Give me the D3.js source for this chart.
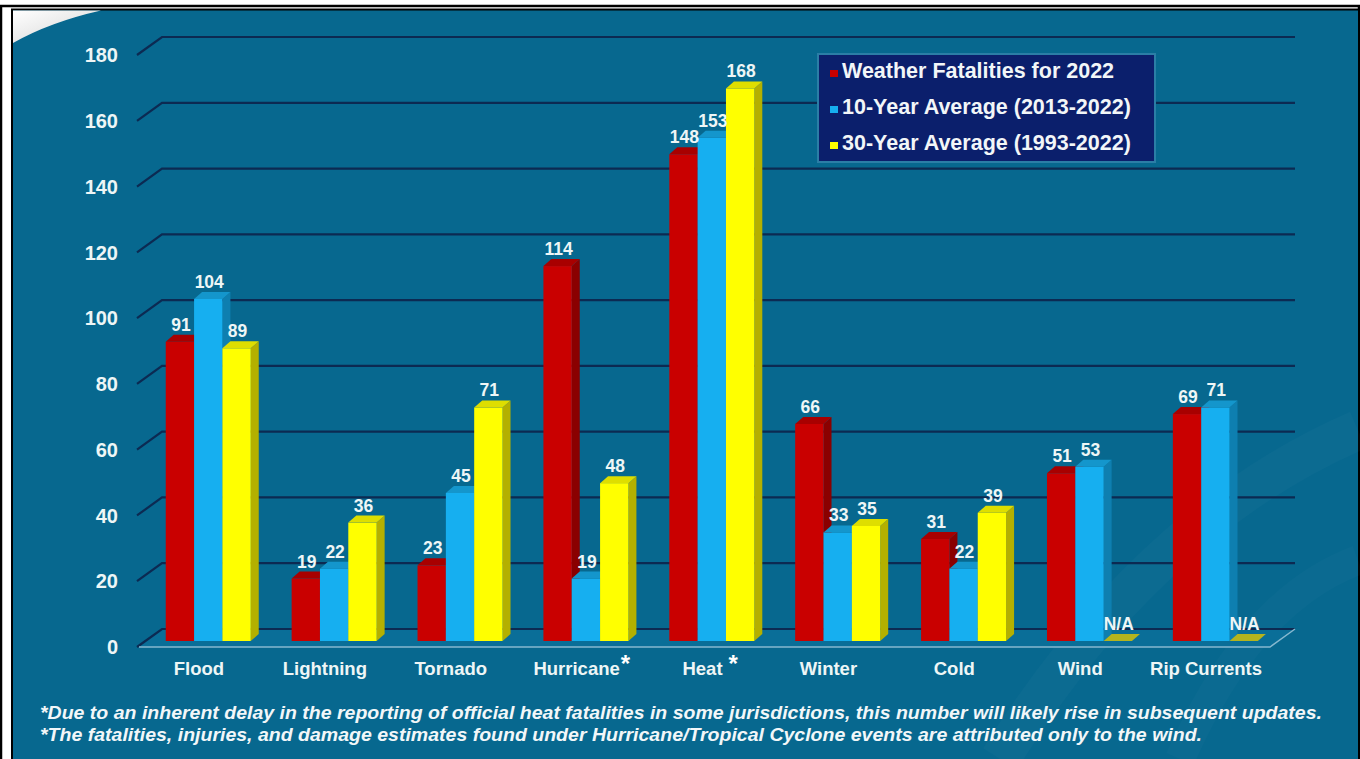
<!DOCTYPE html>
<html>
<meta charset="utf-8">
<script src="https://d3js.org/d3.v7.min.js"></script>
<body style="margin:0;background:#fff">
<script>

// data
var categories = ["Flood", "Lightning", "Tornado", "Hurricane", "Heat", "Winter", "Cold", "Wind", "Rip Currents"];
var starMarks = {"Hurricane": "*", "Heat": " *"};
var fatal2022 = [91, 19, 23, 114, 148, 66, 31, 51, 69];
var avg10 = [104, 22, 45, 19, 153, 33, 22, 53, 71];
var avg30 = [89, 36, 71, 48, 168, 35, 39, null, null];
var seriesNames = ["Weather Fatalities for 2022", "10-Year Average (2013-2022)", "30-Year Average (1993-2022)"];
var yTicks = [0, 20, 40, 60, 80, 100, 120, 140, 160, 180];
var footnotes = [
  "*Due to an inherent delay in the reporting of official heat fatalities in some jurisdictions, this number will likely rise in subsequent updates.",
  "*The fatalities, injuries, and damage estimates found under Hurricane/Tropical Cyclone events are attributed only to the wind."
];

var W = 1360, H = 759;
var colors = [
  {front: "#c90000", top: "#a80000", side: "#8a0000"},
  {front: "#16aff0", top: "#1496cc", side: "#0e7fb0"},
  {front: "#ffff00", top: "#dede00", side: "#b4b000"}
];
var floorD = {dx: 25, dy: -18};   // depth of the floor / back wall
var barD = {dx: 8, dy: -7};       // depth of each bar
var barShift = {dx: 8.3, dy: -6}; // bars stand a third of the way back

var svg = d3.select("body").append("svg")
  .attr("width", W).attr("height", H)
  .style("display", "block")
  .style("font-family", "'Liberation Sans', Arial, sans-serif");

// frame + panel
svg.append("rect").attr("x", 1).attr("y", 6).attr("width", W - 2).attr("height", H).attr("fill", "none").attr("stroke", "#000").attr("stroke-width", 2.5);
svg.append("rect").attr("x", 12).attr("y", 9.5).attr("width", W - 13).attr("height", H).attr("fill", "#07688f").attr("stroke", "#000").attr("stroke-width", 2);

var defs = svg.append("defs");
var g1 = defs.append("linearGradient").attr("id", "swoosh").attr("x1", 0).attr("y1", 0).attr("x2", 1).attr("y2", 1);
g1.append("stop").attr("offset", "0%").attr("stop-color", "#ffffff");
g1.append("stop").attr("offset", "70%").attr("stop-color", "#e0e0e0");
g1.append("stop").attr("offset", "100%").attr("stop-color", "#9aa8b0");
svg.append("path").attr("d", "M13,10.5 L101,10.5 Q50,22 13,43 Z").attr("fill", "url(#swoosh)");

// faint background swooshes
svg.append("path").attr("d", "M1000,759 Q1150,520 1358,430").attr("fill", "none").attr("stroke", "#ffffff").attr("stroke-opacity", 0.025).attr("stroke-width", 40);
svg.append("path").attr("d", "M1180,759 Q1250,600 1358,560").attr("fill", "none").attr("stroke", "#ffffff").attr("stroke-opacity", 0.02).attr("stroke-width", 30);

var x = d3.scaleBand().domain(categories).range([137, 1270]);
var y = d3.scaleLinear().domain([0, 180]).range([647, 55]);
var inner = d3.scaleBand().domain([0, 1, 2]).range([-42.5, 42.5]);

// floor
var x0 = x.range()[0], x1 = x.range()[1], yb = y(0);
svg.append("path")
  .attr("d", `M${x0},${yb} L${x1},${yb} L${x1 + floorD.dx},${yb + floorD.dy} L${x0 + floorD.dx},${yb + floorD.dy} Z`)
  .attr("fill", "#0a6e98");

// gridlines on the back wall with the diagonal leader
var grid = svg.append("g");
grid.selectAll("path").data(yTicks).enter().append("path")
  .attr("d", function(v) {
    return `M${x0},${y(v)} L${x0 + floorD.dx},${y(v) + floorD.dy} L${x1 + floorD.dx},${y(v) + floorD.dy}`;
  })
  .attr("fill", "none").attr("stroke", "#0c2a52").attr("stroke-width", 2.2);

// floor edges
svg.append("path")
  .attr("d", `M${x0 + 2},${yb} L${x1},${yb} L${x1 + floorD.dx},${yb + floorD.dy}`)
  .attr("fill", "none").attr("stroke", "#86b8cf").attr("stroke-width", 1.5);

// y labels
svg.append("g").selectAll("text").data(yTicks).enter().append("text")
  .attr("x", 118).attr("y", function(v) { return y(v); }).attr("dy", "0.36em")
  .attr("text-anchor", "end").attr("font-size", 20).attr("font-weight", "bold")
  .attr("fill", "#eef6f6").text(function(v) { return v; });

// bars
var series = [fatal2022, avg10, avg30];
var bars = [];
categories.forEach(function(c, i) {
  series.forEach(function(s, k) {
    bars.push({cat: c, k: k, v: s[i]});
  });
});

var barG = svg.append("g");
bars.forEach(function(b) {
  var left = x(b.cat) + x.bandwidth() / 2 + barShift.dx + inner(b.k);
  var right = left + inner.bandwidth();
  var base = y(0) + barShift.dy;
  var top = b.v == null ? base : base - (y(0) - y(b.v));
  var col = colors[b.k];
  var g = barG.append("g");
  if (b.v != null) {
    g.append("path")
      .attr("d", `M${right},${top} L${right + barD.dx},${top + barD.dy} L${right + barD.dx},${base + barD.dy} L${right},${base} Z`)
      .attr("fill", col.side);
    g.append("rect").attr("x", left).attr("y", top).attr("width", right - left).attr("height", base - top).attr("fill", col.front);
  }
  g.append("path")
    .attr("d", `M${left},${top} L${right},${top} L${right + barD.dx},${top + barD.dy} L${left + barD.dx},${top + barD.dy} Z`)
    .attr("fill", b.v == null ? "#b4b41e" : col.top);
  b.lx = (left + right) / 2 + 1;
  b.ly = top - 11;
});

// value labels
svg.append("g").selectAll("text").data(bars).enter().append("text")
  .attr("x", function(b) { return b.lx; })
  .attr("y", function(b) { return b.ly; })
  .attr("text-anchor", "middle").attr("font-size", 17.5).attr("font-weight", "bold")
  .attr("fill", "#eef6f6")
  .text(function(b) { return b.v == null ? "N/A" : b.v; });

// category labels
var catG = svg.append("g");
categories.forEach(function(c) {
  var cx = x(c) + x.bandwidth() / 2 - 1;
  var t = catG.append("text").attr("x", cx).attr("y", 675)
    .attr("text-anchor", "middle").attr("font-size", 18.5).attr("font-weight", "bold")
    .attr("fill", "#eef6f6").text(c);
  if (starMarks[c]) {
    var w = t.node().getComputedTextLength();
    catG.append("text").attr("x", cx + w / 2 + (starMarks[c].length > 1 ? 6 : 1)).attr("y", 672)
      .attr("font-size", 24).attr("font-weight", "bold").attr("fill", "#ffffff").text("*");
  }
});

// legend
var leg = svg.append("g");
leg.append("rect").attr("x", 818).attr("y", 54).attr("width", 337).attr("height", 108)
  .attr("fill", "#0b1f6c").attr("stroke", "#2b7ea6").attr("stroke-width", 2);
seriesNames.forEach(function(n, k) {
  var by = 78 + k * 36;
  leg.append("rect").attr("x", 830).attr("y", by - 8).attr("width", 8).attr("height", 7).attr("fill", colors[k].front);
  leg.append("text").attr("x", 842).attr("y", by).attr("font-size", 21.5).attr("font-weight", "bold")
    .attr("fill", "#f2f6f8").text(n);
});

// footnotes
var fw = [1282, 1162];
svg.append("g").selectAll("text").data(footnotes).enter().append("text")
  .attr("x", 40).attr("y", function(d, i) { return 719 + i * 22; })
  .attr("font-size", 17.5).attr("font-weight", "bold").attr("font-style", "italic")
  .attr("fill", "#f2f7f9")
  .attr("textLength", function(d, i) { return fw[i]; })
  .attr("lengthAdjust", "spacingAndGlyphs")
  .text(function(d) { return d; });

</script>
</body>
</html>
